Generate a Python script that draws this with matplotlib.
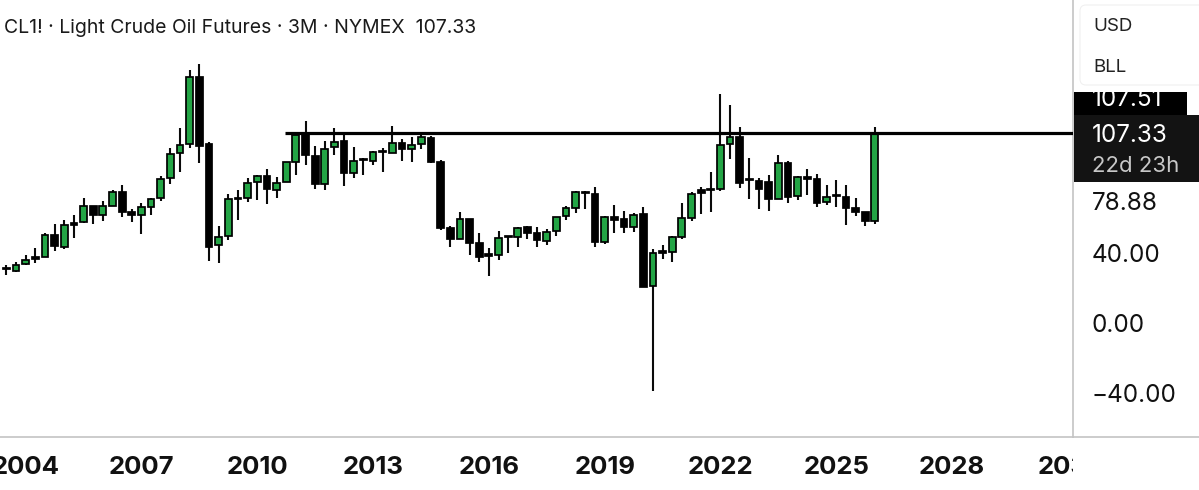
import numpy as np
import matplotlib
matplotlib.use("Agg")
import matplotlib.pyplot as plt
from matplotlib.patches import Rectangle, FancyBboxPatch
from matplotlib.transforms import Bbox, TransformedBbox, ScaledTranslation

plt.rcParams['font.family'] = ['Inter', 'DejaVu Sans']

first_quarter = 2003.25
quarter_step = 0.25
opens = [29.9,30.1,28.7,32.4,36.8,36.8,49.1,42.5,55.8,56.4,65.9,60.6,65.9,73.5,62.5,60.8,65.3,70.3,81.5,95.8,
         101.1,139.6,101.3,43.4,48.8,70.5,70.1,79.4,82.7,75.0,79.6,91.1,107.2,94.5,78.5,99.4,102.7,84.4,92.4,91.4,
         97.3,96.2,101.5,98.1,101.3,104.8,90.9,53.3,47.1,58.3,44.8,38.1,37.9,48.4,47.8,53.7,50.1,45.9,51.4,59.8,
         64.8,73.5,72.8,45.3,59.4,58.5,53.9,61.1,19.8,39.8,39.6,47.8,58.8,74.8,75.6,75.2,100.9,105.3,81.1,80.0,
         79.4,69.9,90.3,71.6,82.5,80.9,68.2,71.8,70.7,64.4,62.1,56.9]
closes = [29.5,29.5,32.0,34.9,35.6,49.1,42.9,54.9,54.9,65.7,60.6,65.9,73.5,62.3,60.6,64.9,69.9,81.1,95.6,100.8,
          139.2,100.2,42.1,48.2,69.9,69.7,78.7,82.9,75.2,79.0,90.7,106.3,94.7,78.3,98.5,102.1,84.4,91.2,91.8,96.6,
          96.6,101.5,98.3,100.8,105.0,90.9,53.0,47.1,58.5,44.8,36.6,37.3,47.6,47.8,53.3,50.5,46.1,51.1,59.4,64.4,
          73.7,73.0,45.3,59.4,57.9,53.7,60.8,19.4,39.0,39.0,47.8,58.8,72.8,72.9,74.8,100.4,105.1,79.0,80.4,75.2,
          69.9,90.1,70.8,82.3,80.9,67.6,71.0,71.2,64.6,62.1,56.9,107.33]
highs = [30.1,32.0,33.5,37.7,41.9,50.1,55.2,57.7,60.6,70.5,65.9,68.6,74.9,77.9,63.8,67.6,70.5,83.0,99.0,110.5,
         143.4,146.9,102.1,54.1,72.8,74.7,81.5,83.2,86.7,82.5,91.0,107.6,114.5,100.0,102.9,110.1,107.2,99.6,93.2,97.3,
         98.7,111.6,103.8,105.0,106.9,105.7,92.2,54.5,62.1,58.5,50.3,41.7,51.2,48.8,53.9,54.5,53.5,52.4,59.6,65.9,
         74.5,74.5,76.4,60.0,66.1,62.8,61.9,65.1,40.9,43.4,48.8,67.2,73.7,76.6,84.9,129.9,123.2,111.0,93.3,81.9,
         83.2,94.7,91.2,82.7,87.0,83.8,77.9,80.4,77.9,70.1,62.3,110.7]
lows = [29.1,26.3,28.2,32.0,32.9,36.4,40.0,41.1,47.2,56.2,55.4,57.3,65.9,59.2,56.6,49.9,60.4,68.4,78.1,85.1,
        99.0,90.1,34.5,33.3,46.5,57.9,67.8,69.0,66.9,70.3,79.4,83.6,89.2,75.2,74.7,95.1,77.2,81.7,83.6,89.0,
        85.3,96.2,91.2,91.1,98.5,90.5,52.2,42.1,46.9,37.5,33.9,25.7,34.9,38.7,42.1,46.9,42.1,43.2,48.6,57.5,
        61.5,64.0,42.1,44.0,50.1,50.1,50.8,19.2,-40.0,35.6,33.5,47.0,57.3,61.3,62.3,74.1,92.6,75.8,69.7,64.0,
        63.0,69.7,67.6,69.1,72.0,64.9,66.1,65.1,54.8,60.0,54.3,55.4]
x_tick_years = [2004, 2007, 2010, 2013, 2016, 2019, 2022, 2025, 2028, 2031]
y_tick_values = [40, 0, -40]
y_tick_labels = ['40.00', '0.00', '\u221240.00']
resistance_level = 107.4
resistance_start = 2010.73
title_text = 'CL1! \u00b7 Light Crude Oil Futures \u00b7 3M \u00b7 NYMEX  107.33'

W, H = 1199, 490
GREEN = '#23A545'
INK = '#131313'
RULE = '#C4C4C4'

opens_a, closes_a = np.array(opens), np.array(closes)
years = first_quarter + quarter_step * np.arange(len(opens))
up = closes_a >= opens_a

fig = plt.figure(figsize=(W / 100, H / 100), dpi=100, facecolor='white')
ax = fig.add_axes([0, (H - 437) / H, 1073 / W, 437 / H])
ax.set_xlim(2003.335, 2031.133)
ax.set_ylim(-66.3, 183.43)

ax.vlines(years, lows, highs, color='#0A0A0A', lw=1.5, zorder=2)
ax.bar(years, closes_a - opens_a, bottom=opens_a, width=0.175,
       color=[GREEN if u else '#000000' for u in up],
       edgecolor='#000000', linewidth=1.25, zorder=3)
ax.plot([resistance_start, 2031.133], [resistance_level] * 2, color='#000000',
        lw=2.3, solid_capstyle='butt', zorder=4)

for s in ('left', 'top'):
    ax.spines[s].set_visible(False)
for s in ('right', 'bottom'):
    ax.spines[s].set_color(RULE)
    ax.spines[s].set_linewidth(1.2)

ax.yaxis.tick_right()
ax.set_yticks(y_tick_values, y_tick_labels)
ax.tick_params(axis='y', length=0, pad=13.5, labelsize=17.5, labelcolor='#111111')
down = ScaledTranslation(0, -1.3 / 72, fig.dpi_scale_trans)
for lab in ax.get_yticklabels():
    lab.set_transform(lab.get_transform() + down)
ax.set_xticks(x_tick_years, [str(y) for y in x_tick_years])
ax.tick_params(axis='x', length=0, pad=14, labelsize=18.5, labelcolor='#111111')
clip = TransformedBbox(Bbox([[0, 0], [1073 / W, 1]]), fig.transFigure)
for lab in ax.get_xticklabels():
    lab.set_fontweight('bold')
    lab.set_clip_box(clip)
    lab.set_clip_on(True)

# Pixel-space overlay for the price-scale panel and header
ov = fig.add_axes([0, 0, 1, 1], facecolor='none')
ov.set_xlim(0, W)
ov.set_ylim(H, 0)
ov.axis('off')
ov.plot([1073, W], [436.5, 436.5], color=RULE, lw=1.2)
ov.add_patch(FancyBboxPatch((1080, 5), 130, 80, boxstyle='round,pad=0,rounding_size=6',
                            fc='white', ec='#F0F0F0', lw=0.8))
ov.text(1093, 26.5, 'USD', fontsize=13.5, color='#222222', va='center', ha='left')
ov.text(1093, 67.5, 'BLL', fontsize=13.5, color='#222222', va='center', ha='left')

ov.add_patch(Rectangle((1074, 92), 113, 23, fc='#000000', ec='none', zorder=3))
upper = ov.text(1092, 99, '107.51', fontsize=17.5, color='white', va='center', ha='left', zorder=4)
upper.set_clip_path(Rectangle((1074, 92), 113, 23, transform=ov.transData))
ov.add_patch(Rectangle((1074, 115), W - 1074, 67, fc=INK, ec='none', zorder=3))
ov.text(1092, 135, '107.33', fontsize=17.5, color='white', va='center', ha='left', zorder=4)
ov.text(1092, 165.5, '22d 23h', fontsize=16, color='#C8C8C8', va='center', ha='left', zorder=4)
ov.text(1092, 203, '78.88', fontsize=17.5, color='#111111', va='center', ha='left')

ov.text(4, 28, title_text, fontsize=14, color='#1A1A1A', va='center', ha='left')

fig.savefig('out.png', dpi=100, facecolor='white')
